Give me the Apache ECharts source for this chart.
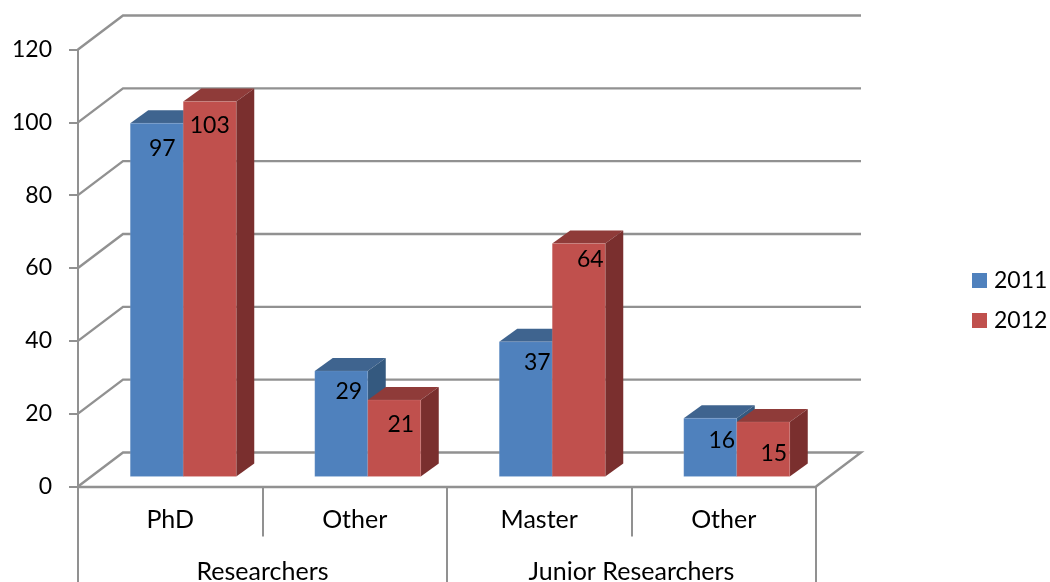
<!DOCTYPE html>
<html><head><meta charset="utf-8">
<script src="https://cdn.jsdelivr.net/npm/echarts@6/dist/echarts.min.js"></script>
<style>html,body{margin:0;padding:0;background:#fff}#c{width:1050px;height:582px}</style>
</head><body><div id="c"></div>
<script>
var subCategories = ['PhD','Other','Master','Other'];
var groups = ['Researchers','Junior Researchers'];
var values2011 = [97,29,37,16];
var values2012 = [103,21,64,15];
var wallTicks = [0,20,40,60,80,100,120];

var FONT='Lato', GRID='#919191';
var WALL=[45,-34], BAR_OFF=[13,-10], DEPTH=[18,-13], BAR_RATIO=0.2873;
var NUDGE_2011=[[5.5,25],[7.5,21],[11.5,21],[11.5,22]];
var NUDGE_2012=[[0,24],[6.5,25],[11.5,16],[10.5,32]];

function barSeries(name,vals,side,front,top,right,nudge){
  return {name:name,type:'custom',xAxisIndex:0,yAxisIndex:0,clip:false,
    itemStyle:{color:front},
    encode:{x:0,y:1},
    data:vals.map(function(v,i){return [i,v];}),
    renderItem:function(p,api){
      var i=api.value(0),v=api.value(1);
      var a=api.coord([i,0]),b=api.coord([i,v]),w=api.size([1,0])[0]*BAR_RATIO;
      var x0=a[0]+BAR_OFF[0]+(side<0?-w:0),x1=x0+w,y0=a[1]+BAR_OFF[1],y1=b[1]+BAR_OFF[1];
      var dx=DEPTH[0],dy=DEPTH[1];
      return {type:'group',children:[
        {type:'polygon',shape:{points:[[x0,y1],[x1,y1],[x1+dx,y1+dy],[x0+dx,y1+dy]]},style:{fill:top}},
        {type:'polygon',shape:{points:[[x1,y0],[x1,y1],[x1+dx,y1+dy],[x1+dx,y0+dy]]},style:{fill:right}},
        {type:'rect',shape:{x:x0,y:y1,width:w,height:y0-y1},style:{fill:front,stroke:'rgba(255,255,255,0.1)',lineWidth:1}},
        {type:'text',z2:10,style:{x:(x0+x1)/2+nudge[i][0],y:y1+nudge[i][1],text:String(v),
          fill:'#000',font:'23px '+FONT,align:'center',verticalAlign:'middle'}}
      ]};
    }};
}

var chart=echarts.init(document.getElementById('c'),null,{renderer:'canvas'});
chart.setOption({
  animation:false,backgroundColor:'#fff',
  grid:{left:78,top:49.5,width:738,height:437,containLabel:false,outerBoundsMode:'none'},
  legend:{left:972,top:269,padding:0,orient:'vertical',icon:'rect',itemWidth:15,itemHeight:15,itemGap:17,
    data:['2011','2012'],selectedMode:false,
    textStyle:{fontFamily:FONT,fontSize:23,lineHeight:15,color:'#000',padding:[0,0,0,2]}},
  xAxis:[
    {type:'category',data:subCategories,position:'bottom',
      axisLine:{show:true,lineStyle:{color:GRID,width:2.4}},
      axisTick:{show:true,length:50,lineStyle:{color:GRID,width:2}},
      axisLabel:{fontFamily:FONT,fontSize:25,color:'#000',margin:21,interval:0},
      splitLine:{show:false}},
    {type:'category',data:groups,position:'bottom',
      axisLine:{show:false},
      axisTick:{show:true,length:97,lineStyle:{color:GRID,width:2}},
      axisLabel:{fontFamily:FONT,fontSize:25,color:'#000',margin:73,interval:0},
      splitLine:{show:false}}
  ],
  yAxis:{type:'value',min:0,max:120,interval:20,
    axisLine:{show:true,lineStyle:{color:GRID,width:2}},
    axisTick:{show:true,length:9,lineStyle:{color:GRID,width:2}},
    axisLabel:{fontFamily:FONT,fontSize:23,color:'#000',margin:26},
    splitLine:{show:false}},
  series:[
    {name:'wall',type:'custom',xAxisIndex:0,yAxisIndex:0,clip:false,silent:true,z:1,
      encode:{y:0},data:wallTicks.map(function(v){return [v];}),
      renderItem:function(p,api){
        var v=api.value(0),c=p.coordSys,y=api.coord([0,v])[1];
        var pts=[[c.x,y],[c.x+WALL[0],y+WALL[1]],[c.x+c.width+WALL[0],y+WALL[1]]];
        if(v===0)pts.push([c.x+c.width,y]);
        return {type:'polyline',shape:{points:pts},style:{stroke:GRID,lineWidth:2.4,fill:null}};
      }},
    Object.assign(barSeries('2011',values2011,-1,'#4f81bd','#3f648f','#34597f',NUDGE_2011),{z:2}),
    Object.assign(barSeries('2012',values2012,1,'#c0504d','#8f3b39','#7a2f2e',NUDGE_2012),{z:3})
  ]
});
</script></body></html>
